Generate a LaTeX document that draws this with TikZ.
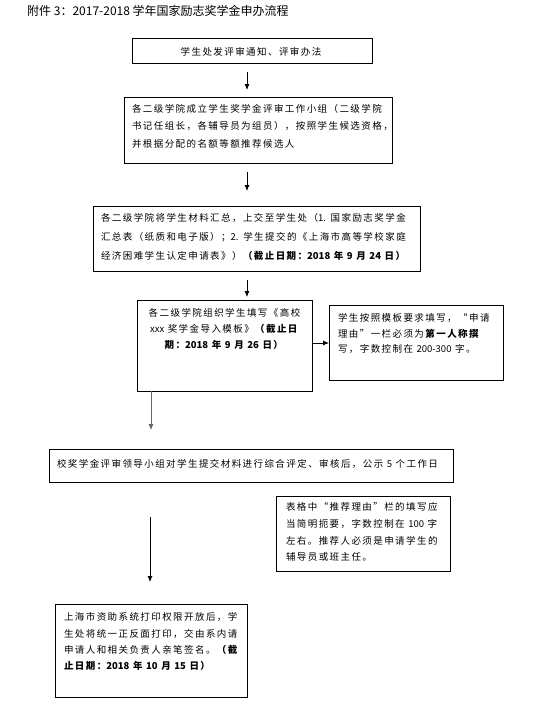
\documentclass[tikz,border=0pt]{standalone}
\usepackage{fontspec}
\setmainfont{Noto Sans CJK SC}
\newfontfamily\boxfont[LetterSpace=15]{Noto Sans CJK SC}
\newfontfamily\plainfont{Noto Sans CJK SC}
\newfontfamily\titlefont{Noto Sans CJK SC}
\newcommand{\nm}[1]{{\plainfont #1}}
\usetikzlibrary{arrows.meta,calc}
\begin{document}
\begin{tikzpicture}[x=1pt,y=-1pt,
  box/.style={draw=black,line width=1pt,inner sep=0pt,outer sep=0pt,fill=white},
  txt/.style={inner sep=0pt,outer sep=0pt,align=left,font={\boxfont\fontsize{9.5}{17}\selectfont}},
  ctxt/.style={txt,align=center},
  arr/.style={draw=black,line width=0.8pt,-{Latex[length=6pt,width=5pt]}}]
\fill[white] (0,0) rectangle (557,728);
\useasboundingbox (0,0) rectangle (557,728);
% title
\node[inner sep=0pt,anchor=base west,font={\titlefont\fontsize{12}{14}\selectfont}] (title) at (27,15) {附件 3：2017-2018 学年国家励志奖学金申办流程};
% boxes
\node[box,minimum width=240,minimum height=25] (b1) at (252,50.5) {};
\node[box,minimum width=268,minimum height=66] (b2) at (258,130) {};
\node[box,minimum width=327,minimum height=65] (b3) at (256.5,238.5) {};
\node[box,minimum width=175,minimum height=91] (b4) at (224.5,345.5) {};
\node[box,minimum width=174,minimum height=75] (b5) at (416,342.5) {};
\node[box,minimum width=404,minimum height=33] (b6) at (251,465.5) {};
\node[box,minimum width=174,minimum height=75] (b7) at (363,533.5) {};
\node[box,minimum width=192,minimum height=93] (b8) at (151,650.5) {};
% texts (base anchor = baseline of last line)
\node[txt,anchor=base] (t1) at (251,55) {学生处发评审通知、评审办法};
\node[txt,anchor=base west,font={\boxfont\fontsize{9.5}{17.5}\selectfont}] (t2) at (132,147) {各二级学院成立学生奖学金评审工作小组（二级学院\\书记任组长，各辅导员为组员），按照学生候选资格，\\并根据分配的名额等额推荐候选人};
\node[txt,anchor=base west,font={\boxfont\fontsize{9.5}{19}\selectfont}] (t3) at (101,259) {各二级学院将学生材料汇总，上交至学生处（\nm{1.} 国家励志奖学金\\汇总表（纸质和电子版）；\nm{2.} 学生提交的《上海市高等学校家庭\\经济困难学生认定申请表》）\textbf{（截止日期：\nm{2018} 年 \nm{9} 月 \nm{24} 日）}};
\node[ctxt,anchor=base,font={\boxfont\fontsize{9.5}{16}\selectfont}] (t4) at (224.5,348.6) {各二级学院组织学生填写《高校\\\nm{xxx} 奖学金导入模板》\textbf{（截止日}\\\textbf{期：\nm{2018} 年 \nm{9} 月 \nm{26} 日）}};
\node[txt,anchor=base west,font={\boxfont\fontsize{9.5}{15.5}\selectfont}] (t5) at (338,352.6) {学生按照模板要求填写，“申请\\理由”一栏必须为\textbf{第一人称撰}\\写，字数控制在 \nm{200-300} 字。};
\node[txt,anchor=base west] (t6) at (57,467) {校奖学金评审领导小组对学生提交材料进行综合评定、审核后，公示 \nm{5} 个工作日};
\node[txt,anchor=base west,font={\boxfont\fontsize{9.5}{16.7}\selectfont}] (t7) at (286,560.7) {表格中“推荐理由”栏的填写应\\当简明扼要，字数控制在 \nm{100} 字\\左右。推荐人必须是申请学生的\\辅导员或班主任。};
\node[txt,anchor=base west,font={\boxfont\fontsize{9.5}{16.3}\selectfont}] (t8) at (64,669.6) {上海市资助系统打印权限开放后，学\\生处将统一正反面打印，交由系内请\\申请人和相关负责人亲笔签名。\textbf{（截}\\\textbf{止日期：\nm{2018} 年 \nm{10} 月 \nm{15} 日）}};
% arrows
\draw[arr] ($(b1.south)+(-5,9)$) -- ($(b2.north)+(-11,-7)$);
\draw[arr] ($(b2.south)+(-11,9)$) -- ($(b3.north)+(-9.5,-15)$);
\draw[arr] ($(b3.south)+(-9.5,9)$) -- ($(b4.north)+(22.5,-3)$);
\draw[arr] ($(b4.east)+(0,-2.5)$) -- ($(b5.west)+(0,0.5)$);
\draw[arr,draw=black!60] ($(b4.south)+(-73.5,0)$) -- ($(b6.north)+(-100,-19)$);
\draw[arr] ($(b6.south)+(-101,35)$) -- ($(b8.north)+(-1,-22)$);
\end{tikzpicture}
\end{document}
